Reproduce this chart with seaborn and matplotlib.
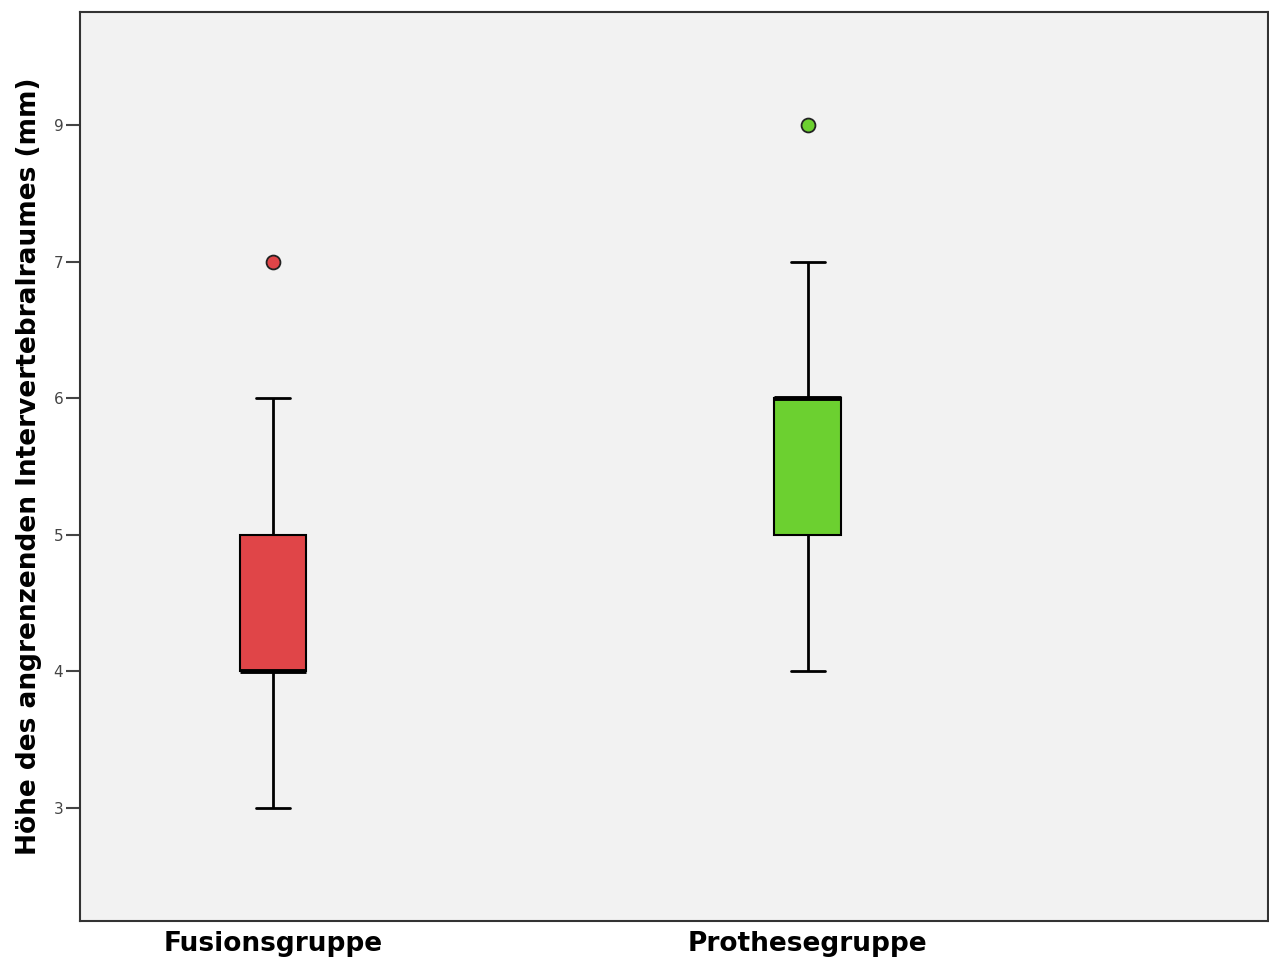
import matplotlib
matplotlib.use("Agg")
import matplotlib.pyplot as plt
import seaborn as sns
import numpy as np
import pandas as pd

# data (values per group, reproduce the SPSS box stats)
groups = ["Fusionsgruppe", "Prothesegruppe"]
fusion_vals = [3, 4, 4, 4, 4, 5, 5, 6, 7]
prothese_vals = [4, 5, 5, 6, 6, 6, 6, 7, 9]
yticks = [3, 4, 5, 6, 7, 9]

colors = ["#E04548", "#6CD030"]

df = pd.DataFrame({
    "Gruppe": [groups[0]] * len(fusion_vals) + [groups[1]] * len(prothese_vals),
    "Hoehe": fusion_vals + prothese_vals,
})

sns.set_style("white")
plt.rcParams["font.family"] = ["DejaVu Sans"]

fig = plt.figure(figsize=(12.69, 9.6), dpi=100)
ax = fig.add_axes([0.063, 0.0406, 0.936, 0.947])

sns.boxplot(data=df, x="Gruppe", y="Hoehe", hue="Gruppe", palette=colors,
            saturation=1, width=0.125, linecolor="black", linewidth=1.5,
            legend=False,
            whiskerprops=dict(linewidth=2), capprops=dict(linewidth=2),
            medianprops=dict(linewidth=3.5, color="black"),
            flierprops=dict(marker="o", markersize=10, markeredgecolor="#222222",
                            markeredgewidth=1.3),
            ax=ax)

# color the outliers with their box colour
for ln in ax.lines:
    if ln.get_marker() == "o" and len(ln.get_xdata()) > 0:
        idx = int(round(np.mean(ln.get_xdata())))
        ln.set_markerfacecolor(colors[idx])

# SPSS axis: upper part (7 -> 9) compressed, 9 sits one step above 7
def fwd(y):
    y = np.asarray(y, dtype=float)
    return np.where(y <= 7, y, 7 + (y - 7) / 2)

def inv(y):
    y = np.asarray(y, dtype=float)
    return np.where(y <= 7, y, 7 + (y - 7) * 2)

ax.set_yscale("function", functions=(fwd, inv))
ax.set_ylim(2.173, 10.654)
ax.set_xlim(-0.361, 1.860)
ax.set_yticks(yticks)
ax.set_yticklabels([str(t) for t in yticks])
ax.yaxis.set_minor_locator(matplotlib.ticker.NullLocator())

ax.set_facecolor("#F2F2F2")
for sp in ax.spines.values():
    sp.set_color("#333333")
    sp.set_linewidth(1.5)

ax.tick_params(axis="y", length=10, width=1.5, color="#444444", labelsize=11,
               labelcolor="#444444", pad=2, left=True)
ax.tick_params(axis="x", length=0, labelsize=19, pad=7, labelcolor="black")
for lab in ax.get_xticklabels():
    lab.set_fontweight("bold")

ax.set_xlabel("")
ax.set_ylabel("Höhe des angrenzenden Intervertebralraumes (mm)", fontsize=19,
              fontweight="bold", labelpad=8, color="black")

fig.savefig("out.png", dpi=100)
